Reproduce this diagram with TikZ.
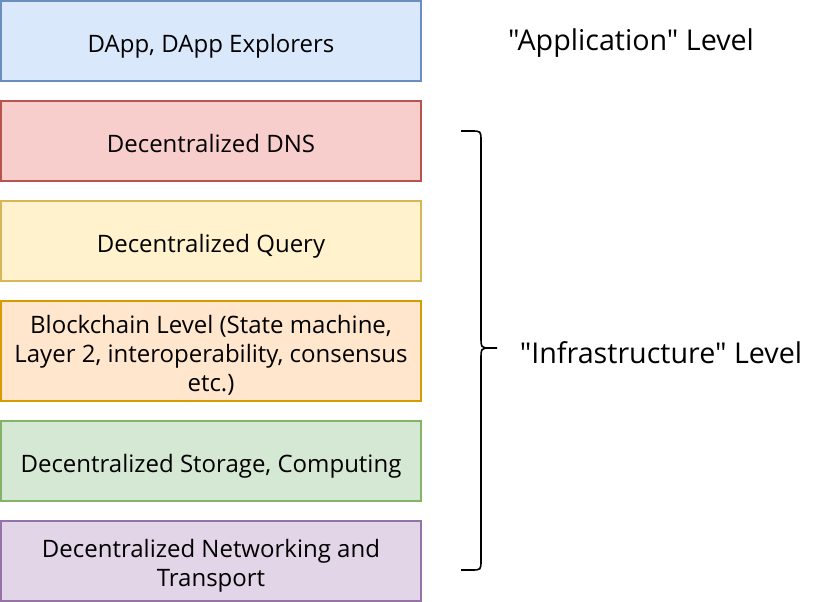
\documentclass[tikz,border=0pt]{standalone}
\usepackage{fontspec}
\setmainfont{Open Sans}[Ligatures=TeXOff]
\newcommand{\lowtext}[1]{\raisebox{-4pt}[\height][\depth]{\begin{tabular}{@{}c@{}}#1\end{tabular}}}
\definecolor{bluefill}{HTML}{DAE8FC}\definecolor{bluedraw}{HTML}{6C8EBF}
\definecolor{redfill}{HTML}{F8CECC}\definecolor{reddraw}{HTML}{B85450}
\definecolor{yelfill}{HTML}{FFF2CC}\definecolor{yeldraw}{HTML}{D6B656}
\definecolor{orafill}{HTML}{FFE6CC}\definecolor{oradraw}{HTML}{D79B00}
\definecolor{grnfill}{HTML}{D5E8D4}\definecolor{grndraw}{HTML}{82B366}
\definecolor{purfill}{HTML}{E1D5E7}\definecolor{purdraw}{HTML}{9673A6}
\tikzset{
  layer/.style={draw=#1draw, fill=#1fill, line width=1.2pt, minimum width=315pt, inner sep=0pt,
    align=center, font=\fontsize{18}{21.75}\selectfont, text=black},
  lvl/.style={font=\fontsize{21.5}{25}\selectfont, text=black, inner sep=0pt},
}
\begin{document}
\begin{tikzpicture}[x=0.75pt,y=-0.75pt]
\useasboundingbox (0,0) rectangle (822,602);
\node[layer=blue, minimum height=60pt] (app) at (211,41) {\lowtext{DApp, DApp Explorers}};
\node[layer=red, minimum height=60pt] (dns) at (211,141) {\lowtext{Decentralized DNS}};
\node[layer=yel, minimum height=60pt] (query) at (211,241) {\lowtext{Decentralized Query}};
\node[layer=ora, minimum height=75pt] (chain) at (211,351) {\lowtext{Blockchain Level (State machine,\\Layer 2, interoperability, consensus\\etc.)}};
\node[layer=grn, minimum height=60pt] (store) at (211,461) {\lowtext{Decentralized Storage, Computing}};
\node[layer=pur, minimum height=60pt] (net) at (211,561) {\lowtext{Decentralized Networking and\\Transport}};
\node[lvl] (applvl) at (631,43) {"Application" Level};
\node[lvl] (infra) at (661,353) {"Infrastructure" Level};
\coordinate (btop) at (461,131);
\coordinate (bbot) at (461,570);
\draw[line width=1.2pt, black] (btop) -- (471,131) .. controls (481,131) .. (481,141) -- (481,336)
  .. controls (481,348) .. (491,348) -- (497,348);
\draw[line width=1.2pt, black] (491,348) .. controls (481,348) .. (481,360) -- (481,560)
  .. controls (481,570) .. (471,570) -- (bbot);
\end{tikzpicture}
\end{document}
